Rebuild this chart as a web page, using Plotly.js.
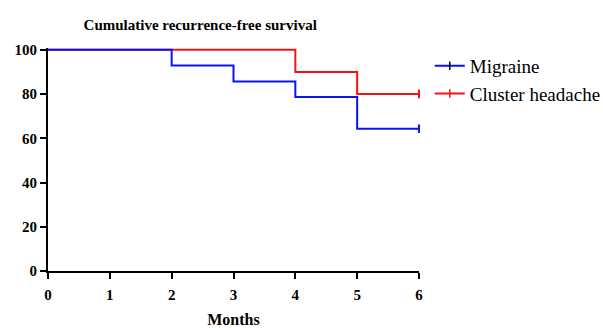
<!DOCTYPE html>
<html><head><meta charset="utf-8">
<script src="https://cdn.plot.ly/plotly-3.0.1.min.js"></script>
<style>body{margin:0}#c{width:603px;height:328px}</style>
</head><body><div id="c"></div>
<script>
const months = [0, 2, 3, 4, 5, 6];
const migraine = [100, 92.9, 85.7, 78.6, 64.3, 64.3];
const clusterMonths = [0, 4, 5, 6];
const cluster = [100, 90, 80, 80];
const censorMonth = [6];
const migraineCensor = [64.3];
const clusterCensor = [80];
const xTicks = [0, 1, 2, 3, 4, 5, 6];
const yTicks = [0, 20, 40, 60, 80, 100];

const blue = '#0a14f0', red = '#f01414';
const serif = 'Liberation Serif';
const traces = [
  {x: clusterMonths, y: cluster, mode: 'lines', line: {shape: 'hv', color: red, width: 2}, showlegend: false},
  {x: months, y: migraine, mode: 'lines', line: {shape: 'hv', color: blue, width: 2}, showlegend: false},
  {x: censorMonth, y: migraineCensor, mode: 'markers', marker: {symbol: 'line-ns-open', size: 6, color: blue, line: {color: blue, width: 2}}, showlegend: false, cliponaxis: false},
  {x: censorMonth, y: clusterCensor, mode: 'markers', marker: {symbol: 'line-ns-open', size: 6, color: red, line: {color: red, width: 2}}, showlegend: false, cliponaxis: false},
  {x: [null], y: [null], name: 'Migraine', legendgroup: 'a', mode: 'lines+markers', line: {color: blue, width: 2}, marker: {symbol: 'line-ns-open', size: 6, color: '#000', line: {color: '#000', width: 1.5}}},
  {x: [null], y: [null], name: 'Cluster headache', legendgroup: 'b', mode: 'lines+markers', line: {color: red, width: 2}, marker: {symbol: 'line-ns-open', size: 6, color: red, line: {color: red, width: 1.5}}}
];
const layout = {
  width: 603, height: 328,
  margin: {l: 48, r: 184, t: 48, b: 57, autoexpand: false},
  paper_bgcolor: '#fff', plot_bgcolor: '#fff',
  font: {family: serif, color: '#000'},
  title: {text: 'Cumulative recurrence-free survival', x: 0.332, xanchor: 'center', y: 0.925, yanchor: 'middle', xref: 'container', yref: 'container',
          font: {family: serif, size: 15, weight: 'bold', color: '#000'}},
  xaxis: {range: [0, 6], tickvals: xTicks, ticktext: xTicks.map(String), showgrid: false, zeroline: false,
          showline: true, linecolor: '#000', linewidth: 2, ticks: 'outside', ticklen: 6, tickwidth: 2, tickcolor: '#000',
          tickfont: {family: serif, size: 15, weight: 'bold', color: '#000'}, ticklabelstandoff: 3,
          title: {text: 'Months', font: {family: serif, size: 16, weight: 'bold', color: '#000'}, standoff: 14}},
  yaxis: {range: [0, 100.8], tickvals: yTicks, ticktext: yTicks.map(String), showgrid: false, zeroline: false,
          showline: true, linecolor: '#000', linewidth: 2, ticks: 'outside', ticklen: 6, tickwidth: 2, tickcolor: '#000',
          tickfont: {family: serif, size: 15, weight: 'bold', color: '#000'}},
  legend: {x: 1.029, xanchor: 'left', y: 1.005, yanchor: 'top', font: {family: serif, size: 19, color: '#000'}, itemwidth: 30,
           traceorder: 'grouped', tracegroupgap: 0, bgcolor: 'rgba(0,0,0,0)'},
  showlegend: true
};
Plotly.newPlot('c', traces, layout, {displayModeBar: false, staticPlot: true});
</script>
</body></html>
